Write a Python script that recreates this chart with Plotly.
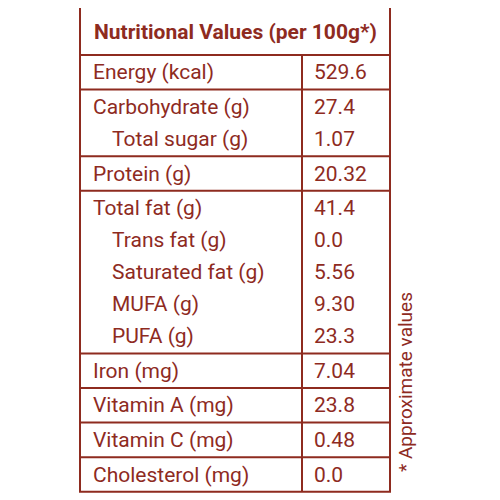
import plotly.graph_objects as go

title = "Nutritional Values (per 100g*)"
nutrients = ["Energy (kcal)", "Carbohydrate (g)", "Total sugar (g)", "Protein (g)",
             "Total fat (g)", "Trans fat (g)", "Saturated fat (g)", "MUFA (g)", "PUFA (g)",
             "Iron (mg)", "Vitamin A (mg)", "Vitamin C (mg)", "Cholesterol (mg)"]
values = ["529.6", "27.4", "1.07", "20.32", "41.4", "0.0", "5.56", "9.30", "23.3",
          "7.04", "23.8", "0.48", "0.0"]
indented = [False, False, True, False, False, True, True, True, True, False, False, False, False]
group_sizes = [1, 2, 1, 5, 1, 1, 1, 1]
footnote = "* Approximate values"

RED = "#8e2b1f"
OFF = 8  # page body margin
x0, xmid, x1 = 80 - OFF, 302 - OFF, 390 - OFF
top, head_h = 5 - OFF, 50
line_h = 32
pad = 1.3

fig = go.Figure()
shapes = []
annotations = []

y = top + head_h
bottom = top + head_h + line_h * 13 + pad * 16
shapes.append(dict(type="rect", x0=x0, x1=x1, y0=top, y1=bottom,
                   line=dict(color=RED, width=2)))
annotations.append(dict(x=(x0 + x1) / 2, y=top + head_h / 2 + 2, text="<b>" + title + "</b>",
                        showarrow=False, font=dict(size=21, color=RED)))
shapes.append(dict(type="line", x0=xmid, x1=xmid, y0=y, y1=bottom, line=dict(color=RED, width=2)))
i = 0
for g in group_sizes:
    shapes.append(dict(type="line", x0=x0, x1=x1, y0=y, y1=y, line=dict(color=RED, width=2)))
    y += pad
    for _ in range(g):
        cy = y + line_h / 2
        annotations.append(dict(x=x0 + (30 if indented[i] else 11), y=cy, text=nutrients[i],
                                xanchor="left", showarrow=False, font=dict(size=21, color=RED)))
        annotations.append(dict(x=xmid + 10, y=cy, text=values[i], xanchor="left",
                                showarrow=False, font=dict(size=21, color=RED)))
        y += line_h
        i += 1
    y += pad

annotations.append(dict(x=405 - OFF, y=382 - OFF, text=footnote, textangle=-90, showarrow=False,
                        font=dict(size=19, color=RED)))

fig.update_layout(width=500, height=500, margin=dict(l=0, r=0, t=0, b=0),
                  plot_bgcolor="white", paper_bgcolor="white",
                  shapes=shapes, annotations=annotations,
                  font=dict(family="Roboto, Liberation Sans Narrow, sans-serif"),
                  xaxis=dict(range=[0, 500], visible=False, fixedrange=True),
                  yaxis=dict(range=[500, 0], visible=False, fixedrange=True))
fig.write_html("out.html")
